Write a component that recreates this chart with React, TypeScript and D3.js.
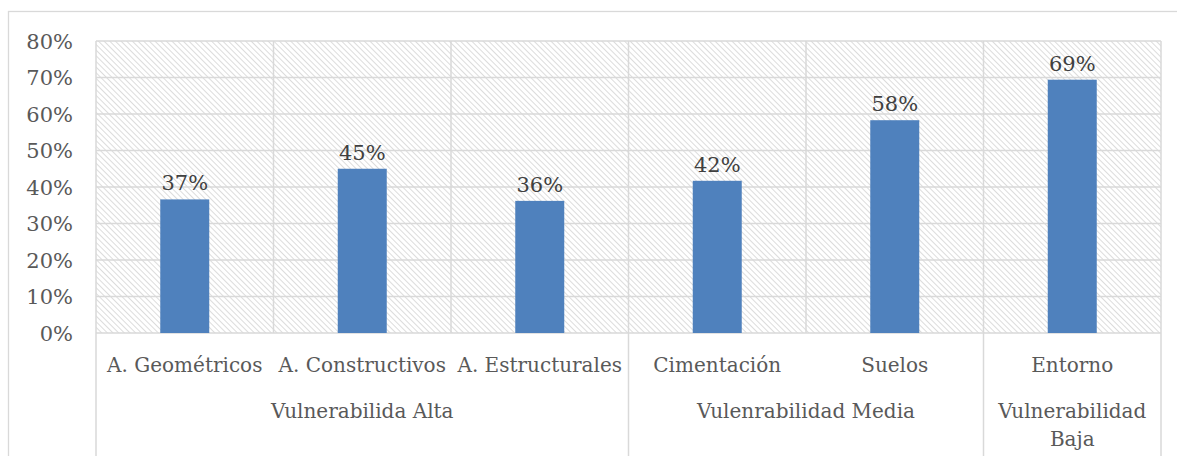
import React from "react";
import * as d3 from "d3";

const categories = [
  "A. Geométricos",
  "A. Constructivos",
  "A. Estructurales",
  "Cimentación",
  "Suelos",
  "Entorno",
];
const values = [0.366, 0.45, 0.362, 0.417, 0.583, 0.694];
const valueLabels = ["37%", "45%", "36%", "42%", "58%", "69%"];
const groups = [
  { lines: ["Vulnerabilida Alta"], count: 3 },
  { lines: ["Vulenrabilidad Media"], count: 2 },
  { lines: ["Vulnerabilidad", "Baja"], count: 1 },
];
const yTicks = [0, 0.1, 0.2, 0.3, 0.4, 0.5, 0.6, 0.7, 0.8];

const W = 1177;
const H = 456;
const left = 96;
const right = 1161;
const top = 41;
const bottom = 333;
const grid = "#d9d9d9";
const textColor = "#595959";
const font = "'DejaVu Serif', serif";

const App = () => {
  const x = d3.scaleBand<string>().domain(categories).range([left, right]).padding(0);
  const y = d3.scaleLinear().domain([0, 0.8]).range([bottom, top]);
  const bw = x.bandwidth() * 0.276;
  const fmt = d3.format(".0%");

  // group boundaries in band index
  let start = 0;
  const groupSpans = groups.map((g) => {
    const s = start;
    start += g.count;
    return { ...g, s, e: start };
  });
  const edge = (i: number) => (i < categories.length ? (x(categories[i]) as number) : right);

  return (
    <svg
      width={W}
      height={H}
      style={{ position: "absolute", left: 0, top: 0, background: "#fff" }}
      fontFamily={font}
    >
      <defs>
        <pattern id="hatch" width="4" height="4" patternUnits="userSpaceOnUse" patternTransform="rotate(-45)">
          <rect width="4" height="4" fill="#fff" />
          <line x1="0" y1="0" x2="0" y2="4" stroke="#d3d3d3" strokeWidth="1.6" />
        </pattern>
      </defs>
      {/* outer chart border */}
      <rect x={8.5} y={11.5} width={W + 10} height={H + 10} fill="none" stroke={grid} strokeWidth={1.3} />

      {/* plot area */}
      <rect x={left} y={top} width={right - left} height={bottom - top} fill="url(#hatch)" />
      {yTicks.map((t) => (
        <line key={t} x1={left} x2={right} y1={y(t)} y2={y(t)} stroke={grid} strokeWidth={1.5} />
      ))}
      {categories.map((c, i) => (
        <line key={c} x1={edge(i)} x2={edge(i)} y1={top} y2={bottom} stroke={grid} strokeWidth={1.5} />
      ))}
      <line x1={right} x2={right} y1={top} y2={bottom} stroke={grid} strokeWidth={1.5} />

      {/* group separators extending below axis */}
      {groupSpans.map((g) => (
        <line key={"gs" + g.s} x1={edge(g.s)} x2={edge(g.s)} y1={bottom} y2={H} stroke={grid} strokeWidth={1.5} />
      ))}
      <line x1={right} x2={right} y1={bottom} y2={H} stroke={grid} strokeWidth={1.5} />

      {/* y tick labels */}
      {yTicks.map((t) => (
        <text key={"yl" + t} x={73} y={y(t)} dy="0.36em" textAnchor="end" fontSize={21} fill={textColor}>
          {fmt(t)}
        </text>
      ))}

      {/* bars */}
      {categories.map((c, i) => {
        const cx = (x(c) as number) + x.bandwidth() / 2;
        return (
          <g key={"b" + c}>
            <rect x={cx - bw / 2} y={y(values[i])} width={bw} height={bottom - y(values[i])} fill="#4f81bd" />
            <text x={cx} y={y(values[i]) - 9} textAnchor="middle" fontSize={21} fill="#404040">
              {valueLabels[i]}
            </text>
          </g>
        );
      })}

      {/* category labels */}
      {categories.map((c) => (
        <text
          key={"cl" + c}
          x={(x(c) as number) + x.bandwidth() / 2}
          y={372}
          textAnchor="middle"
          fontSize={20}
          fill={textColor}
        >
          {c}
        </text>
      ))}

      {/* group labels */}
      {groupSpans.map((g) => {
        const cx = (edge(g.s) + edge(g.e)) / 2;
        return (
          <text key={"gl" + g.s} x={cx} y={418} textAnchor="middle" fontSize={20} fill={textColor}>
            {g.lines.map((l, k) => (
              <tspan key={l} x={cx} dy={k === 0 ? 0 : 28}>
                {l}
              </tspan>
            ))}
          </text>
        );
      })}
    </svg>
  );
};

export default App;
